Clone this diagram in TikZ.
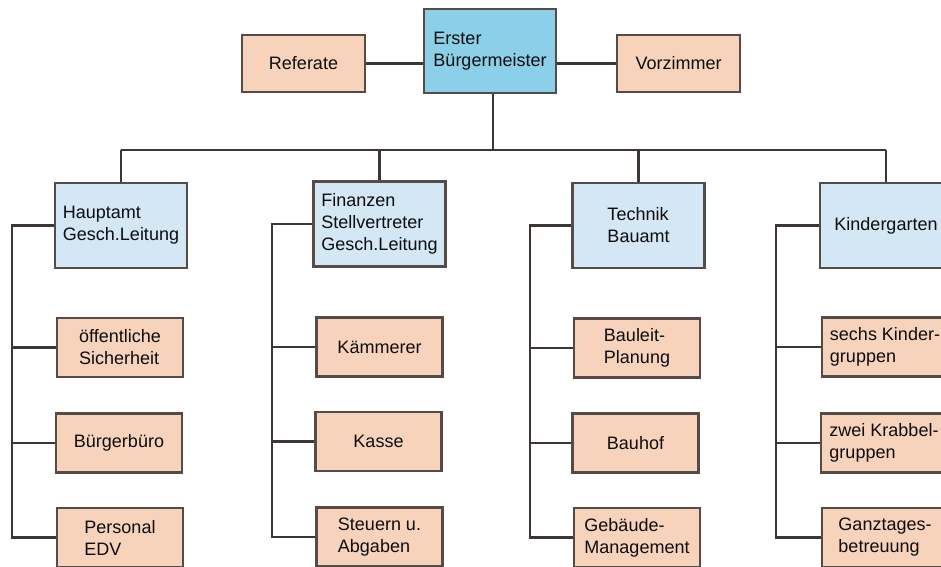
\documentclass[tikz,border=0pt]{standalone}
\usepackage{fontspec}
\setmainfont{Liberation Sans}
\definecolor{peach}{RGB}{248,211,188}
\definecolor{chiefblue}{RGB}{140,207,232}
\definecolor{deptblue}{RGB}{212,231,245}
\definecolor{boxframe}{RGB}{87,75,71}
\definecolor{ink}{RGB}{62,54,51}
\tikzstyle{office}=[draw=boxframe, line width=2.6pt, fill=peach, align=left, minimum width=123pt, minimum height=57pt, inner sep=3pt, text=black!95, font=\fontsize{18}{22}\selectfont]
\tikzstyle{chief}=[office, fill=chiefblue, minimum width=132pt, minimum height=84pt]
\tikzstyle{dept}=[office, fill=deptblue, minimum width=132pt, minimum height=85pt]
\tikzstyle{unit}=[office, minimum width=126pt, minimum height=59pt]
\tikzstyle{link}=[draw=ink, line width=2.8pt]

\begin{document}
\begin{tikzpicture}[x=1pt, y=-1pt]
    \useasboundingbox (0,0) rectangle (941,566);
    \fill[white] (0,0) rectangle (941,566);
    \clip (0,0) rectangle (941,566);

    % top row
    \node[office] (ref) at (303.5,63.5) {Referate};
    \node[chief] (chief) at (490,51) {Erster\\Bürgermeister};
    \node[office] (vorz) at (678.5,63.5) {Vorzimmer};

    % departments
    \foreach \pos/\name/\txt in {
                            {(121,225.5)/haupt/{Hauptamt\\Gesch.Leitung}},
                            {(379.5,224)/fin/{Finanzen\\Stellvertreter\\Gesch.Leitung}},
                            {(638.5,225.5)/tech/{Technik\\Bauamt}},
                            {(886,225.5)/kinder/{Kindergarten}}}
        \node[dept] (\name) at \pos {\txt};

    % units below the departments
    \foreach \pos/\name/\txt in {
                            {(120,347.5)/sicher/{öffentliche\\Sicherheit}},
                            {(119,443)/buero/{Bürgerbüro}},
                            {(120,537.5)/edv/{Personal\\EDV}},
                            {(379.5,347)/kaemm/{Kämmerer}},
                            {(378.5,441.5)/kasse/{Kasse}},
                            {(379.5,537)/steuer/{Steuern u.\\Abgaben}},
                            {(637,348)/bauleit/{Bauleit-\\Planung}},
                            {(635.5,443)/bauhof/{Bauhof}},
                            {(637,537.5)/gebaeude/{Gebäude-\\Management}},
                            {(885,347)/gruppen/{sechs Kinder-\\gruppen}},
                            {(884,443)/krabbel/{zwei Krabbel-\\gruppen}},
                            {(885,537.5)/ganztag/{Ganztages-\\betreuung}}}
        \node[unit] (\name) at \pos {\txt};

    % Connect the offices
    \draw[link] (ref.east) -- (ref.east -| chief.west);
    \draw[link] (vorz.west) -- (vorz.west -| chief.east);
    \coordinate (bar) at (493,150);
    \draw[link] (bar |- chief.south) -- (bar);
    \draw[link] (haupt.north |- bar) -- (kinder.north |- bar);
    \foreach \d in {haupt,fin,tech,kinder}
        \draw[link] (\d.north |- bar) -- (\d.north);

    % department columns
    \foreach \d/\x/\a/\b/\c in {haupt/12/sicher/buero/edv,
                                fin/272/kaemm/kasse/steuer,
                                tech/530/bauleit/bauhof/gebaeude,
                                kinder/776/gruppen/krabbel/ganztag} {
        \draw[link] (\d.west) -| (\x,0 |- \c.west) -- (\c.west);
        \draw[link] (\x,0 |- \a.west) -- (\a.west);
        \draw[link] (\x,0 |- \b.west) -- (\b.west);
    }

\end{tikzpicture}
\end{document}
